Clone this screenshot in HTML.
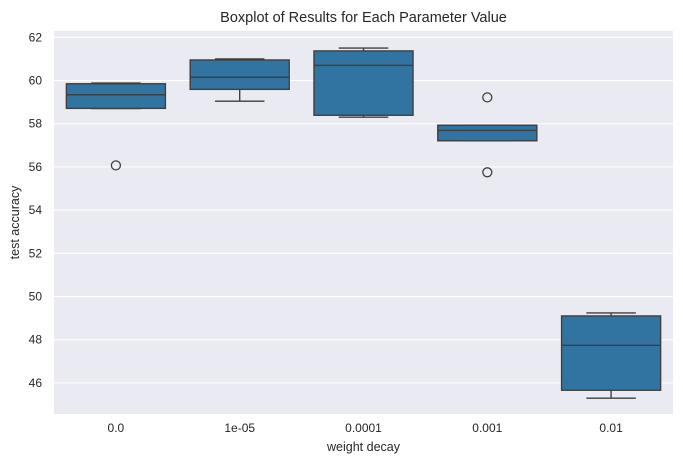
<!DOCTYPE html>
<html><head><meta charset="utf-8"><style>
body{margin:0;background:#fff;}
svg{display:block;font-family:"Liberation Sans",sans-serif;}
</style></head><body>
<svg id="chart" width="683" height="465">
<text x="363.5" y="22" text-anchor="middle" font-size="14.5" fill="#262626">Boxplot of Results for Each Parameter Value</text>
<rect x="54" y="31" width="619" height="383" fill="#eaeaf2"/>
<g id="grid"></g><g id="boxes"></g><g id="axes"></g>
<text x="363.5" y="451" text-anchor="middle" font-size="12.5" fill="#262626">weight decay</text>
<text transform="translate(19,222.5) rotate(-90)" text-anchor="middle" font-size="12.5" fill="#262626">test accuracy</text>
</svg>
<script>
const categories=["0.0","1e-05","0.0001","0.001","0.01"];
const whiskerLow=[58.70,59.04,58.30,57.21,45.29];
const q1=[58.71,59.59,58.39,57.21,45.66];
const median=[59.34,60.15,60.70,57.69,47.74];
const q3=[59.85,60.95,61.37,57.93,49.10];
const whiskerHigh=[59.88,61.0,61.5,57.93,49.24];
const outliers=[[56.07],[],[],[59.22,55.75],[]];
const yTicks=[46,48,50,52,54,56,58,60,62];
const NS="http://www.w3.org/2000/svg";
const L=54,R=673,T=31,B=414;
function y(v){return 37.3+(62-v)*21.6;}
function xc(i){return L+(R-L)/categories.length*(i+0.5);}
const band=(R-L)/categories.length;
function mk(tag,attrs,parent){const e=document.createElementNS(NS,tag);for(const k in attrs)e.setAttribute(k,attrs[k]);document.getElementById(parent).appendChild(e);return e;}
yTicks.forEach(t=>{
  const g=mk("line",{x1:L,x2:R,y1:y(t),y2:y(t),stroke:"#fff","stroke-width":1},"grid");
  
  
  const tx=mk("text",{x:L-12,y:y(t)+4,"text-anchor":"end","font-size":12,fill:"#262626"},"axes");
  tx.textContent=t;
  
  
});
categories.forEach((c,i)=>{
  const cx=xc(i),w=band*0.8,cw=w/2,st="#3f3f3f";
  const tx=mk("text",{x:cx,y:B+18,"text-anchor":"middle","font-size":12,fill:"#262626"},"axes");
  tx.textContent=c;
  
  
  const wl=mk("line",{x1:cx,x2:cx,y1:y(whiskerLow[i]),y2:y(q1[i]),stroke:st,"stroke-width":1.4},"boxes");
  
  
  const wh=mk("line",{x1:cx,x2:cx,y1:y(whiskerHigh[i]),y2:y(q3[i]),stroke:st,"stroke-width":1.4},"boxes");
  
  
  [whiskerLow[i],whiskerHigh[i]].forEach(v=>{
    const cap=mk("line",{x1:cx-cw/2,x2:cx+cw/2,y1:y(v),y2:y(v),stroke:st,"stroke-width":1.4},"boxes");
    
    
  });
  const bx=mk("rect",{x:cx-w/2,y:y(q3[i]),width:w,height:y(q1[i])-y(q3[i]),fill:"#3274a1",stroke:st,"stroke-width":1.4},"boxes");
  
  
  const md=mk("line",{x1:cx-w/2,x2:cx+w/2,y1:y(median[i]),y2:y(median[i]),stroke:st,"stroke-width":1.4},"boxes");
  
  
  outliers[i].forEach(v=>{
    const o=mk("circle",{cx:cx,cy:y(v),r:4.5,fill:"none",stroke:st,"stroke-width":1.3},"boxes");
    
    
  });
});
</script>
</body></html>
